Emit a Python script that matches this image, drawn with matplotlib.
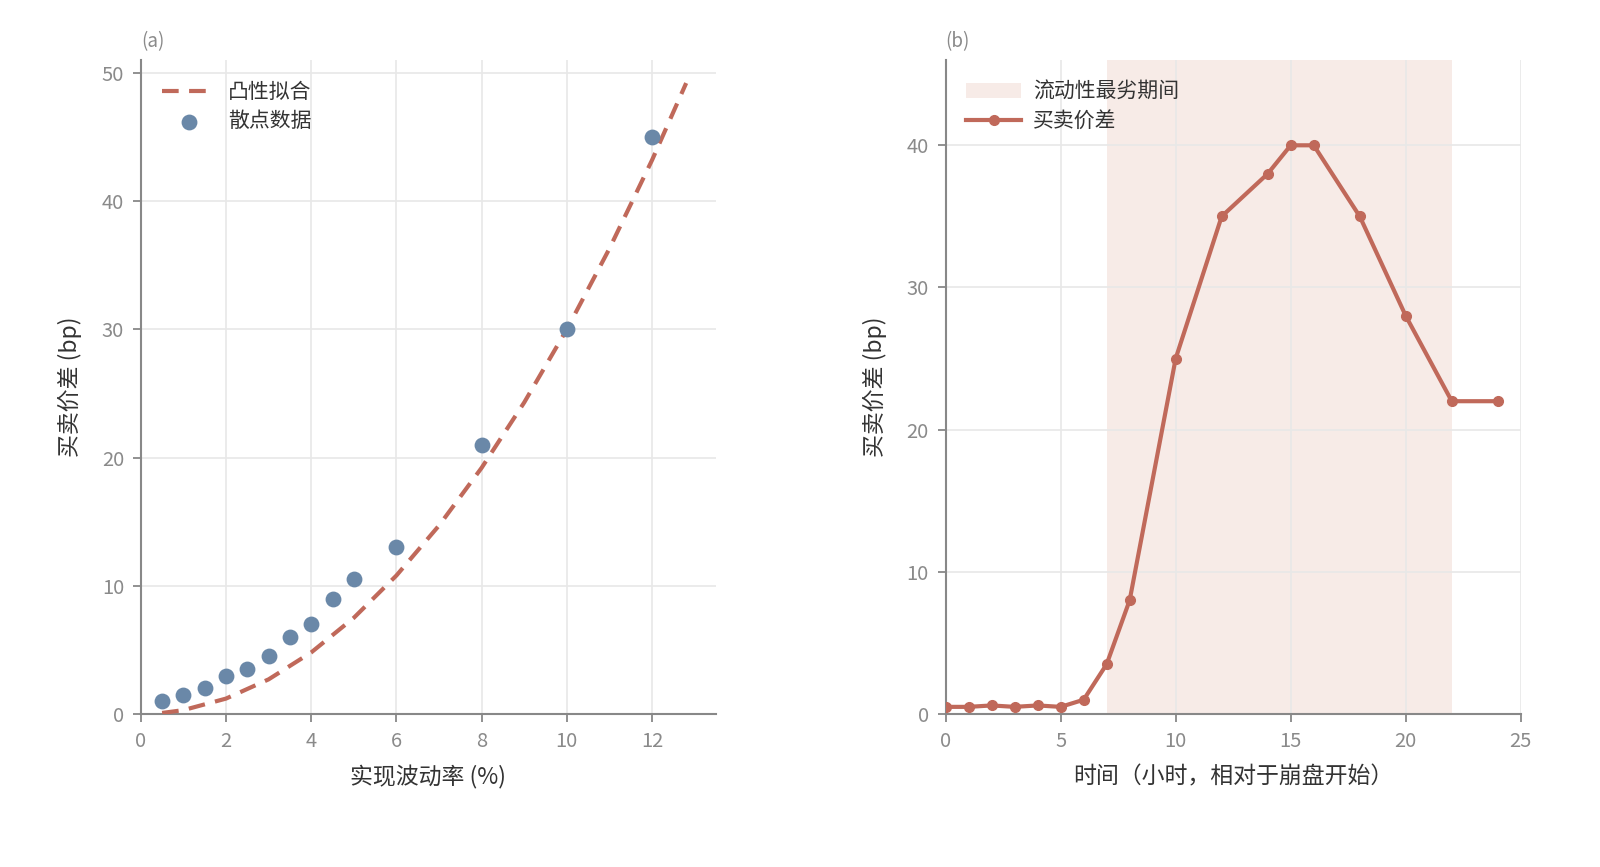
import matplotlib
matplotlib.use("Agg")
import matplotlib.pyplot as plt

plt.rcParams['font.family'] = ['Noto Sans CJK SC', 'DejaVu Sans']
plt.rcParams['axes.unicode_minus'] = False

# ---- Panel (a) data ----
vol_x = [0.5, 1, 1.5, 2, 2.5, 3, 3.5, 4, 4.5, 5, 6, 8, 10, 12]
spread_y = [1, 1.5, 2, 3, 3.5, 4.5, 6, 7, 9, 10.5, 13, 21, 30, 45]
fit_x = [0.5, 1, 2, 3, 4, 5, 6, 7, 8, 9, 10, 11, 12, 12.8]
fit_y = [0.08, 0.3, 1.2, 2.7, 4.8, 7.5, 10.8, 14.7, 19.2, 24.3, 30, 36.3, 43.2, 49.2]

# ---- Panel (b) data ----
hours = [0, 1, 2, 3, 4, 5, 6, 7, 8, 10, 12, 14, 15, 16, 18, 20, 22, 24]
spread_t = [0.5, 0.5, 0.6, 0.5, 0.6, 0.5, 1.0, 3.5, 8, 25, 35, 38, 40, 40, 35, 28, 22, 22]
worst_start, worst_end = 7, 22

RED = '#c0695a'
BLUE = '#6a88a8'
SHADE = '#f7ebe7'
GRID = '#e8e8e8'
SPINE = '#888888'
TICK = '#8a8a8a'
TXT = '#333333'

fig = plt.figure(figsize=(16, 8.67), dpi=100)
ax1 = fig.add_axes([0.088, 0.1765, 0.3595, 0.7543])
ax2 = fig.add_axes([0.591, 0.1765, 0.3595, 0.7543])

def style(ax):
    for s in ['top', 'right']:
        ax.spines[s].set_visible(False)
    for s in ['left', 'bottom']:
        ax.spines[s].set_color(SPINE)
        ax.spines[s].set_linewidth(1.5)
    ax.grid(True, color=GRID, linewidth=1.2)
    ax.set_axisbelow(True)
    ax.tick_params(colors=SPINE, labelcolor=TICK, labelsize=14.5, length=6, width=1.3, pad=6)

# Panel (a)
style(ax1)
ax1.plot(fit_x, fit_y, linestyle=(0, (4, 2.5)), color=RED, linewidth=3, label='凸性拟合', zorder=3)
ax1.scatter(vol_x, spread_y, s=130, color=BLUE, label='散点数据', zorder=4, linewidths=0)
ax1.set_xlim(0, 13.5)
ax1.set_ylim(0, 51)
ax1.set_xticks([0, 2, 4, 6, 8, 10, 12])
ax1.set_yticks([0, 10, 20, 30, 40, 50])
ax1.set_xlabel('实现波动率 (%)', fontsize=16.5, color=TXT, labelpad=10)
ax1.set_ylabel('买卖价差 (bp)', fontsize=16.5, color=TXT, labelpad=14)
ax1.text(0.0, 1.012, '(a)', transform=ax1.transAxes, fontsize=13.5, color=TICK, ha='left', va='bottom')
leg1 = ax1.legend(loc='upper left', frameon=False, fontsize=15, handlelength=2.6,
                  borderaxespad=0.6, labelspacing=0.35, handletextpad=0.6)
for t in leg1.get_texts():
    t.set_color(TXT)

# Panel (b)
style(ax2)
ax2.axvspan(worst_start, worst_end, color=SHADE, zorder=0, linewidth=0, label='流动性最劣期间')
ax2.plot(hours, spread_t, color=RED, linewidth=3, marker='o', markersize=7, label='买卖价差', zorder=3)
ax2.set_xlim(0, 25)
ax2.set_ylim(0, 46)
ax2.set_xticks([0, 5, 10, 15, 20, 25])
ax2.set_yticks([0, 10, 20, 30, 40])
ax2.set_xlabel('时间（小时，相对于崩盘开始）', fontsize=16.5, color=TXT, labelpad=10)
ax2.set_ylabel('买卖价差 (bp)', fontsize=16.5, color=TXT, labelpad=14)
ax2.text(0.0, 1.012, '(b)', transform=ax2.transAxes, fontsize=13.5, color=TICK, ha='left', va='bottom')
leg2 = ax2.legend(loc='upper left', frameon=False, fontsize=15, handlelength=2.6,
                  borderaxespad=0.6, labelspacing=0.35, handletextpad=0.6)
for t in leg2.get_texts():
    t.set_color(TXT)

fig.savefig('out.png', dpi=100)
